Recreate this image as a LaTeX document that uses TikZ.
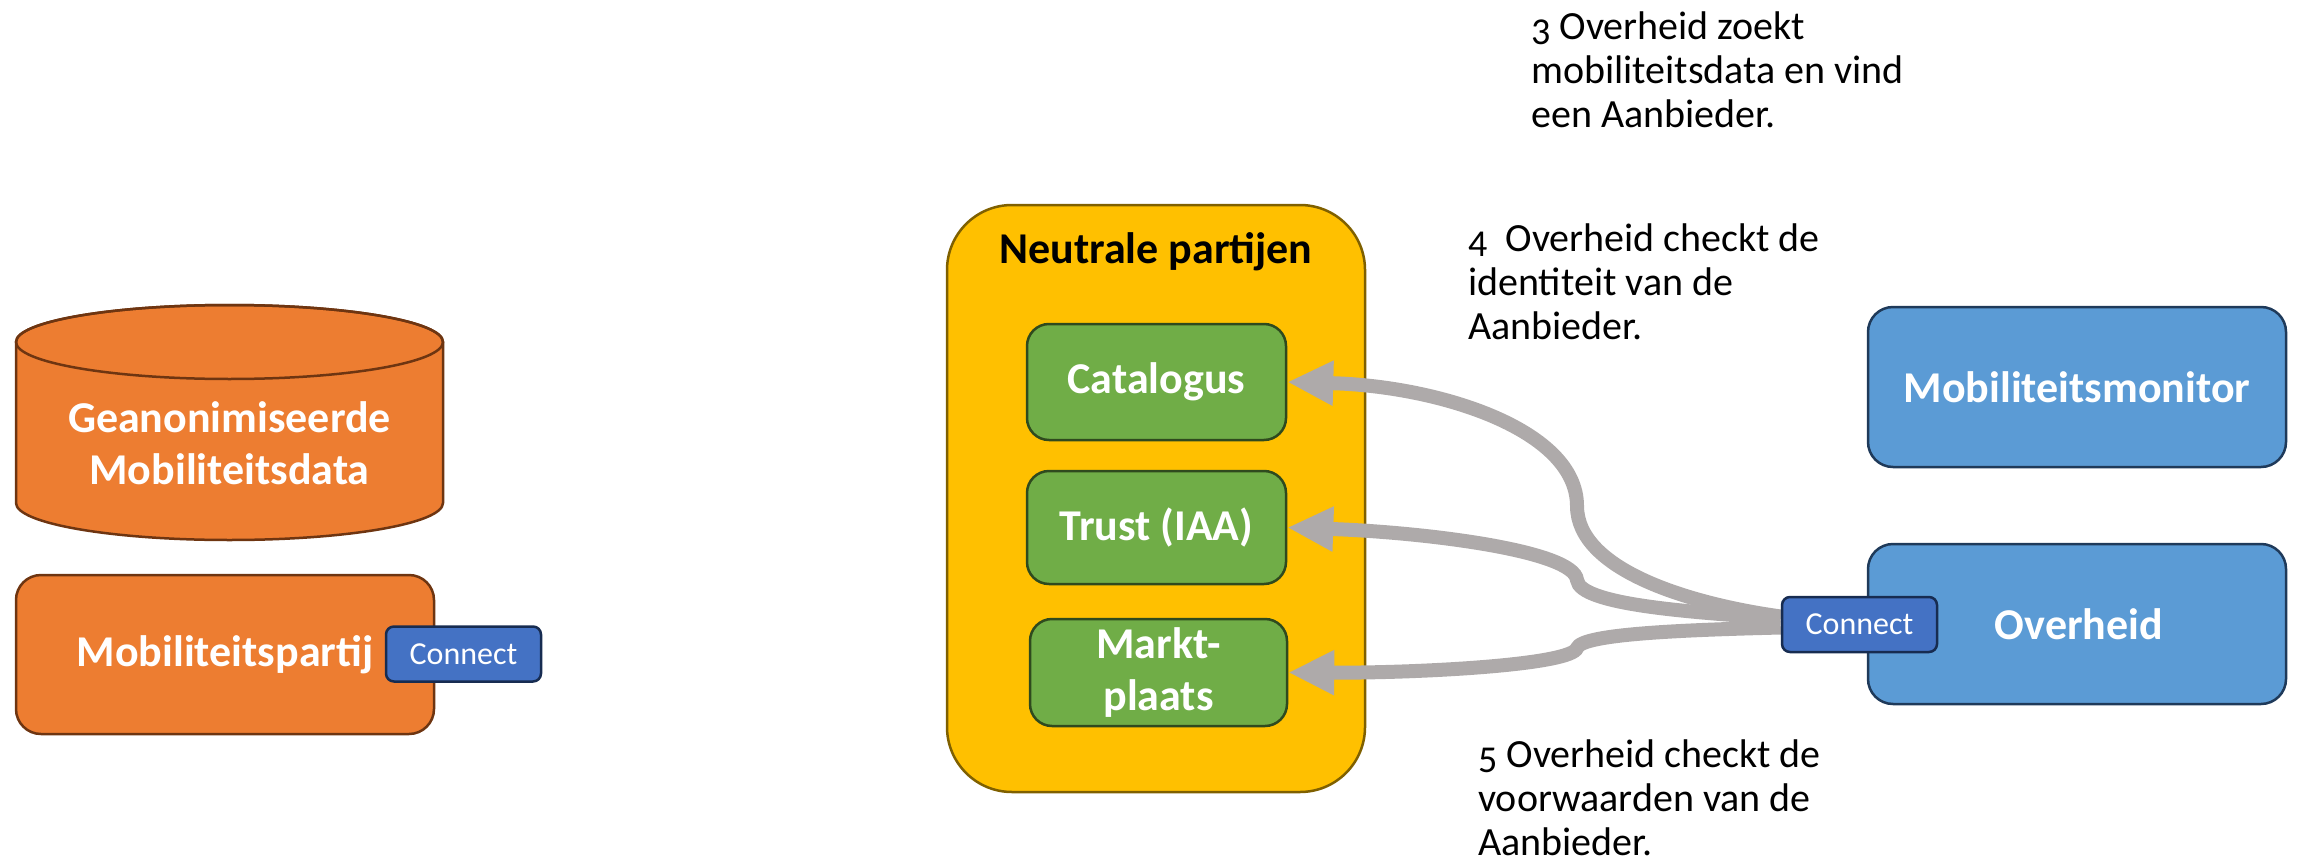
\documentclass[tikz,border=0pt]{standalone}
\usepackage{fontspec}
\setmainfont{Carlito}
\usetikzlibrary{arrows.meta}
\pgfdeclarelayer{front}
\pgfsetlayers{main,front}

% step numbers set a little smaller and dropped, like old-style figures
\newcommand{\stepnum}[1]{\raisebox{-5pt}{\fontsize{38}{40}\selectfont #1}}

\definecolor{orangefill}{HTML}{ED7D31}
\definecolor{orangeline}{HTML}{6E3511}
\definecolor{yellowfill}{HTML}{FFC000}
\definecolor{yellowline}{HTML}{7F6000}
\definecolor{greenfill}{HTML}{70AD47}
\definecolor{greenline}{HTML}{2F4A1E}
\definecolor{bluefill}{HTML}{5B9BD5}
\definecolor{blueline}{HTML}{1F3A5A}
\definecolor{connfill}{HTML}{4472C4}
\definecolor{connline}{HTML}{172C51}
\definecolor{flowgray}{HTML}{AEAAAA}

\tikzset{
  boxbase/.style={draw, line width=2.5pt, inner sep=0pt, align=center,
    text=white, font={\fontsize{44}{52}\selectfont\bfseries}},
  orangebox/.style={boxbase, fill=orangefill, draw=orangeline, rounded corners=25pt},
  greenbox/.style={boxbase, fill=greenfill, draw=greenline, rounded corners=22pt},
  bluebox/.style={boxbase, fill=bluefill, draw=blueline, rounded corners=25pt},
  connbox/.style={draw=connline, fill=connfill, line width=2.5pt, inner sep=0pt,
    rounded corners=8pt, text=white, minimum width=155pt, minimum height=55pt,
    font={\fontsize{32}{36}\selectfont}},
  note/.style={anchor=west, align=left, inner sep=0pt, text=black,
    font={\fontsize{40}{44}\selectfont}},
  flow/.style={draw=flowgray, line width=14pt,
    -{Triangle[length=46pt,width=42pt]}}
}

\begin{document}
\begin{tikzpicture}[x=1pt,y=-1pt]
\useasboundingbox (0,0) rectangle (2301,864);

% data store (cylinder)
\path[fill=orangefill, draw=orangeline, line width=2.5pt]
  (16,342) -- (16,503)
  arc[start angle=180, end angle=0, x radius=213.5, y radius=37]
  -- (443,342)
  arc[start angle=360, end angle=180, x radius=213.5, y radius=37] -- cycle;
\draw[orangeline, line width=2.5pt] (229.5,342) ellipse[x radius=213.5, y radius=37];
\node[boxbase, draw=none] (data) at (229.5,443) {Geanonimiseerde\\Mobiliteitsdata};

% provider
\node[orangebox, minimum width=418pt, minimum height=159pt] (partij) at (225,654.5) {Mobiliteitspartij};
\node[connbox] (conL) at (463.5,654) {Connect};

% neutral parties
\node[draw=yellowline, fill=yellowfill, line width=2.5pt, rounded corners=65pt,
  minimum width=418pt, minimum height=587pt, inner sep=0pt] (neutral) at (1156,498.5) {};
\node[text=black, font={\fontsize{44}{52}\selectfont\bfseries}, inner sep=0pt] (ntitle) at (1156,252) {Neutrale partijen};
\node[greenbox, minimum width=259pt, minimum height=116pt] (cat) at (1156.5,382) {Catalogus};
\node[greenbox, minimum width=259pt, minimum height=113pt] (trust) at (1156.5,527.5) {Trust (IAA)};
\node[greenbox, minimum width=257pt, minimum height=107pt] (markt) at (1158.5,672.5) {Markt-\\plaats};

% government side
\node[bluebox, minimum width=418pt, minimum height=160pt] (monitor) at (2077,387) {Mobiliteitsmonitor};
\node[bluebox, minimum width=418pt, minimum height=160pt] (overheid) at (2077,624) {\hspace*{4pt}Overheid};
\begin{pgfonlayer}{front}
\node[connbox] (conR) at (1859.5,624.5) {Connect};
\end{pgfonlayer}

% requests from the government connector
\draw[flow] ([yshift=8pt]conR.west) .. controls (1690,604) and (1577,570) .. (1577,506)
  .. controls (1577,430) and (1440,386) .. (cat.east);
\draw[flow] ([yshift=6pt]conR.west) .. controls (1690,612) and (1580,605) .. (1577,580)
  .. controls (1574,550) and (1420,532) .. (trust.east);
\draw[flow] ([yshift=-3pt]conR.west) .. controls (1680,630) and (1582,634) .. (1577,648)
  .. controls (1572,665) and (1420,673) .. (markt.east);

% step descriptions
\node[note] (n3) at (1531,70) {\stepnum{3} Overheid zoekt\\mobiliteitsdata en vind\\een Aanbieder.};
\node[note] (n4) at (1468,282) {\stepnum{4}\ \ Overheid checkt de\\identiteit van de\\Aanbieder.};
\node[note] (n5) at (1478,798) {\stepnum{5} Overheid checkt de\\voorwaarden van de\\Aanbieder.};
\end{tikzpicture}
\end{document}
